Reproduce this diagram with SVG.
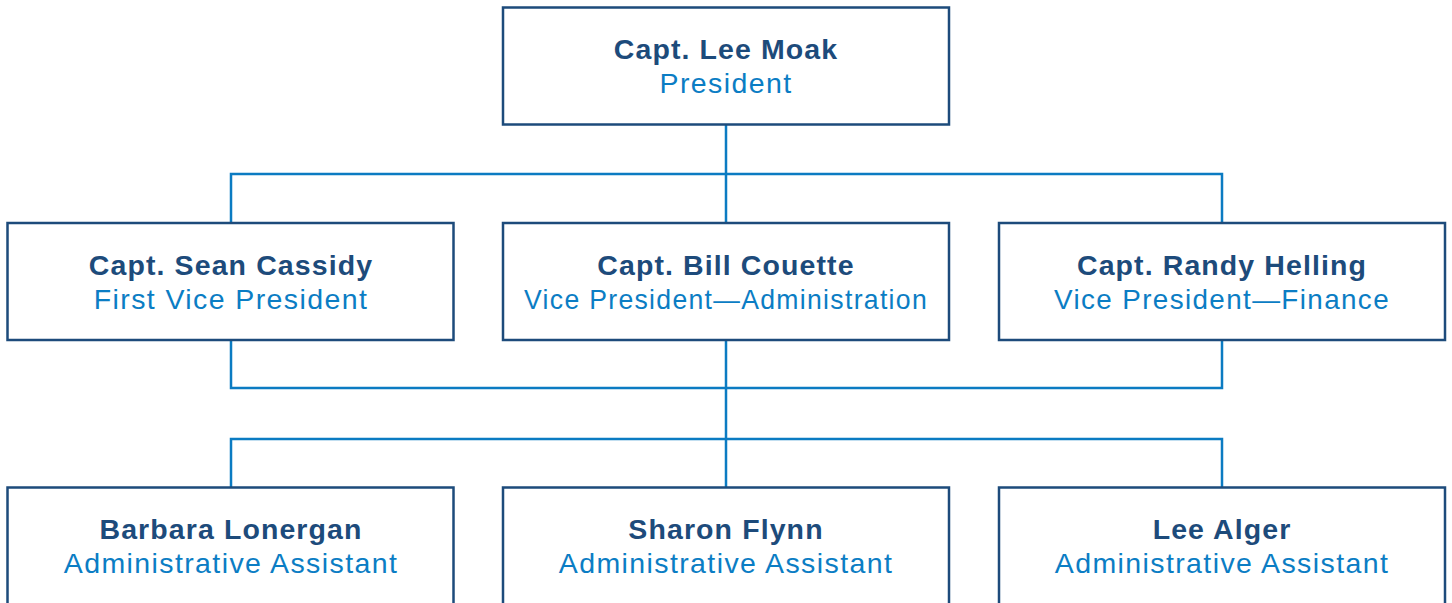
<svg xmlns="http://www.w3.org/2000/svg" width="1452" height="603" viewBox="0 0 1452 603">
<style>
.box{fill:#fff;stroke:#1d4b7b;stroke-width:2.5}
.ln{fill:none;stroke:#0b7bc2;stroke-width:2.5}
.nm{font-family:"Liberation Sans",Arial,sans-serif;font-weight:bold;font-size:28.5px;fill:#1d4b7b;text-anchor:middle;letter-spacing:1.1px}
.tt{font-family:"Liberation Sans",Arial,sans-serif;font-size:28.5px;fill:#0b7dc4;text-anchor:middle;letter-spacing:1.4px}
</style>
<rect width="1452" height="603" fill="#fff"/>
<g id="connectors">
<path class="ln" d="M726 125V222M231 222V174H1222V222"/>
<path class="ln" d="M231 341V388H1222V341M726 341V487M231 487V439H1222V487"/>
</g>
<g id="president"><rect class="box" x="503" y="7.5" width="446" height="117"/><text class="nm" x="726" y="59">Capt. Lee Moak</text><text class="tt" x="726" y="93">President</text></g>
<g id="cassidy"><rect class="box" x="7.5" y="223" width="446" height="117"/><text class="nm" x="231" y="275">Capt. Sean Cassidy</text><text class="tt" x="231" y="309">First Vice President</text></g>
<g id="couette"><rect class="box" x="503" y="223" width="446" height="117"/><text class="nm" x="726" y="275">Capt. Bill Couette</text><text class="tt" x="726" y="309" textLength="404" lengthAdjust="spacingAndGlyphs">Vice President—Administration</text></g>
<g id="helling"><rect class="box" x="999" y="223" width="446" height="117"/><text class="nm" x="1222" y="275">Capt. Randy Helling</text><text class="tt" x="1222" y="309" textLength="336" lengthAdjust="spacingAndGlyphs">Vice President—Finance</text></g>
<g id="lonergan"><rect class="box" x="7.5" y="487.5" width="446" height="130"/><text class="nm" x="231" y="539">Barbara Lonergan</text><text class="tt" x="231" y="573">Administrative Assistant</text></g>
<g id="flynn"><rect class="box" x="503" y="487.5" width="446" height="130"/><text class="nm" x="726" y="539">Sharon Flynn</text><text class="tt" x="726" y="573">Administrative Assistant</text></g>
<g id="alger"><rect class="box" x="999" y="487.5" width="446" height="130"/><text class="nm" x="1222" y="539">Lee Alger</text><text class="tt" x="1222" y="573">Administrative Assistant</text></g>
</svg>
